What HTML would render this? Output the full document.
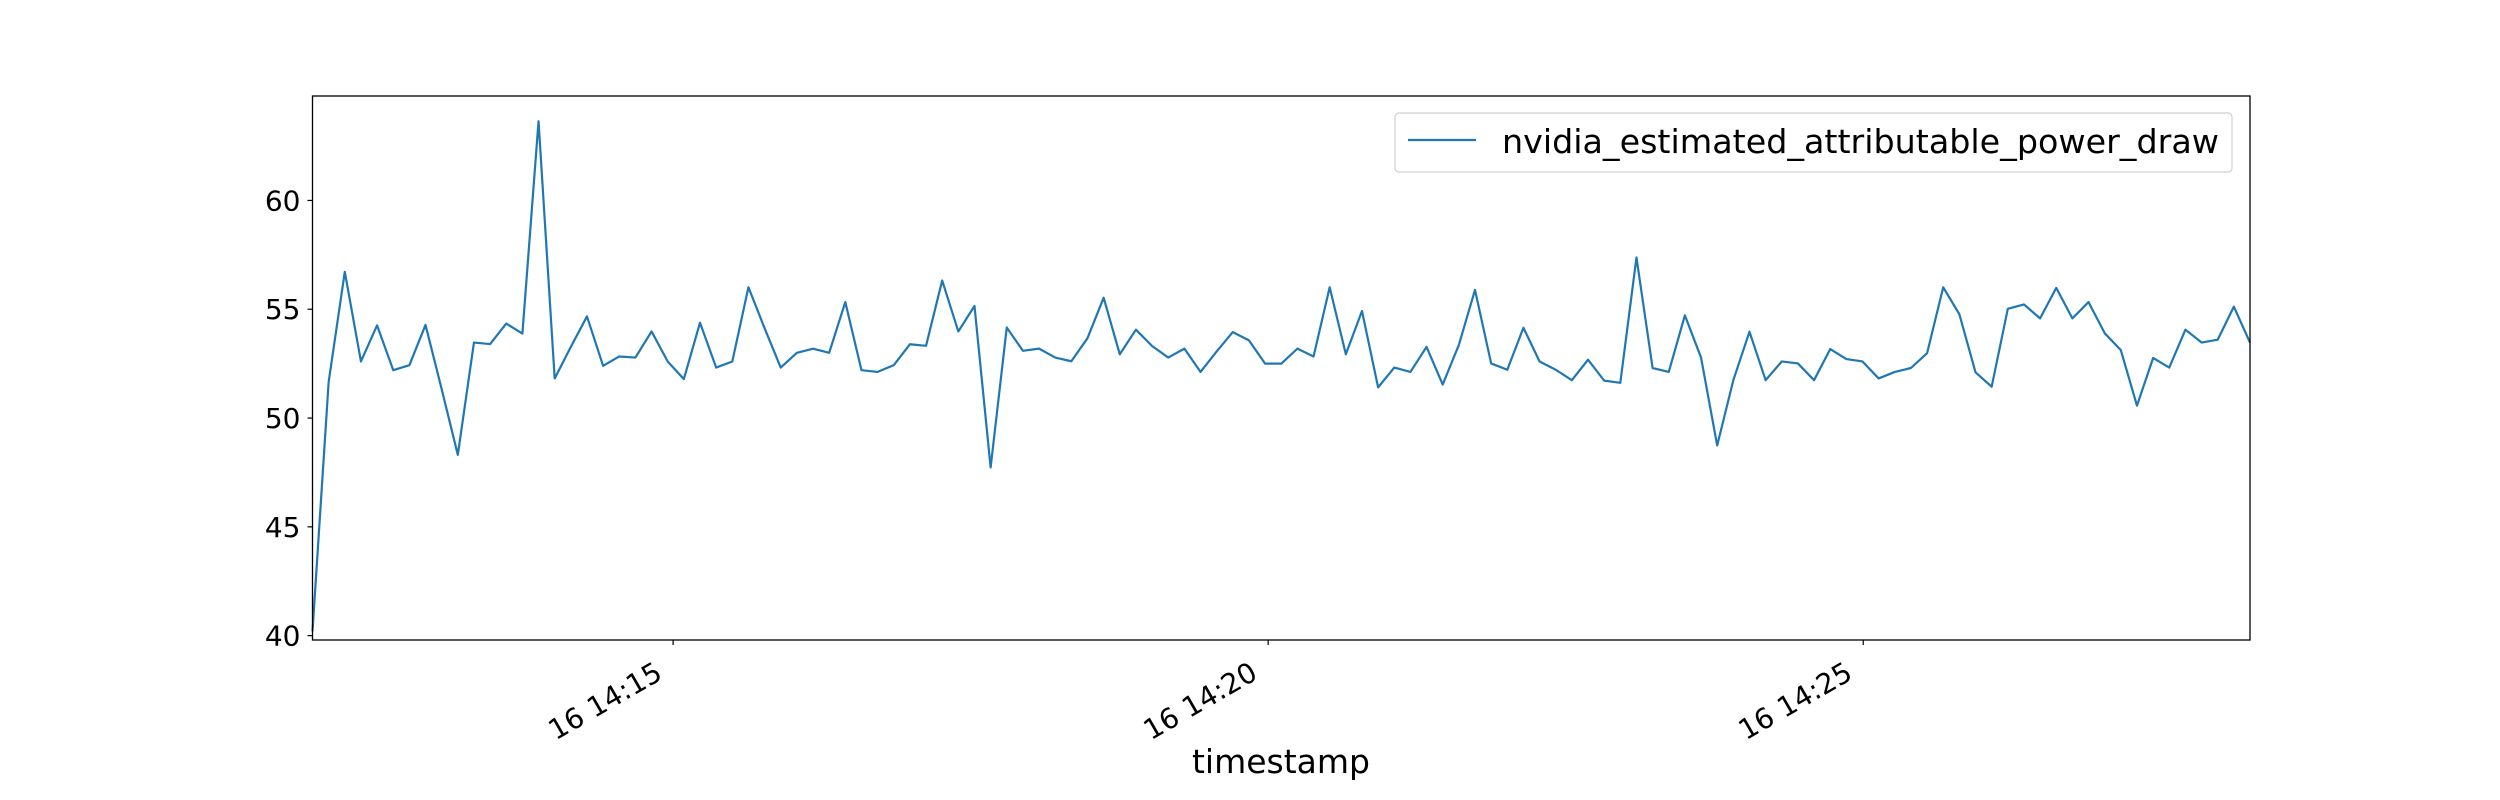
<!DOCTYPE html>
<html><head><meta charset="utf-8"><style>
html,body{margin:0;padding:0;background:#fff;}
svg{display:block;font-family:"DejaVu Sans","Liberation Sans",sans-serif;}
</style></head><body>
<svg id="chart" width="2500" height="800" viewBox="0 0 2500 800" xmlns="http://www.w3.org/2000/svg">
<rect width="2500" height="800" fill="#fff"/>
<g id="plot"></g>
</svg>
<script>
const seriesName = "nvidia_estimated_attributable_power_draw";
const startSeconds = 14*3600 + 11*60 + 58.2;
const stepSeconds = 8.14;
const powerValues = [40.2,51.66,56.72,52.6,54.26,52.2,52.43,54.28,51.33,48.31,53.47,53.4,54.34,53.88,63.64,51.82,53.27,54.67,52.4,52.83,52.78,53.98,52.6,51.79,54.38,52.32,52.6,56.01,54.13,52.32,53.0,
53.19,53.0,55.33,52.2,52.12,52.43,53.39,53.32,56.32,53.98,55.15,47.73,54.16,53.09,53.19,52.78,52.61,53.67,55.53,52.93,54.06,53.31,52.78,53.19,52.12,53.06,53.95,53.57,52.5,52.5,
53.19,52.83,56.01,52.93,54.92,51.41,52.32,52.12,53.27,51.54,53.36,55.89,52.51,52.22,54.15,52.6,52.22,51.74,52.68,51.72,51.62,57.38,52.3,52.12,54.72,52.78,48.74,51.74,53.97,
51.74,52.6,52.51,51.74,53.17,52.71,52.6,51.82,52.12,52.3,52.98,56.01,54.77,52.1,51.44,55.02,55.22,54.58,55.98,54.58,55.33,53.9,53.12,50.57,52.76,52.32,54.06,53.47,53.6,55.12,53.47];
const timeSeconds = powerValues.map((v,i)=>startSeconds + i*stepSeconds);
const yTicks = [40,45,50,55,60];
const xTickSeconds = [14*3600+15*60, 14*3600+20*60, 14*3600+25*60];
const xTickLabels = ["16 14:15","16 14:20","16 14:25"];

const L=312.5,R=2250,T=96,B=640;
const yMin=39.8,yMax=64.8;
const xMin=timeSeconds[0], xMax=timeSeconds[timeSeconds.length-1];
const xs=t=>L+(t-xMin)/(xMax-xMin)*(R-L);
const ys=v=>B-(v-yMin)/(yMax-yMin)*(B-T);
const NS="http://www.w3.org/2000/svg";
const g=document.getElementById('plot');
function mk(tag,attrs,parent){const e=document.createElementNS(NS,tag);for(const k in attrs)e.setAttribute(k,attrs[k]);(parent||g).appendChild(e);return e;}

const line=mk('polyline',{points:powerValues.map((v,i)=>xs(timeSeconds[i]).toFixed(2)+','+ys(v).toFixed(2)).join(' '),fill:'none',stroke:'#1f77b4','stroke-width':2.2,'stroke-linejoin':'round'});



const frame=mk('rect',{x:L,y:T,width:R-L,height:B-T,fill:'none',stroke:'#000','stroke-width':1.3});



yTicks.forEach(v=>{
  const y=ys(v);
  mk('line',{x1:L-5,x2:L,y1:y,y2:y,stroke:'#000','stroke-width':1.2});
  const t=mk('text',{x:L-12,y:y+10,'text-anchor':'end','font-size':28,fill:'#000'});
  t.textContent=v;
  
  
});
xTickSeconds.forEach((s,i)=>{
  const x=xs(s);
  mk('line',{x1:x,x2:x,y1:B,y2:B+5,stroke:'#000','stroke-width':1.2});
  const t=mk('text',{x:0,y:0,'text-anchor':'end','font-size':28,fill:'#000',transform:`translate(${x-9},${B+38}) rotate(-30)`});
  t.textContent=xTickLabels[i];
  
  
});
const xl=mk('text',{x:1281,y:773,'text-anchor':'middle','font-size':33,fill:'#000'});
xl.textContent='timestamp';



const leg=mk('g',{});


mk('rect',{x:1395,y:113,width:837,height:59,rx:4,fill:'#fff','fill-opacity':0.8,stroke:'#d0d0d0','stroke-width':1.2},leg);
mk('line',{x1:1408,x2:1476,y1:140,y2:140,stroke:'#1f77b4','stroke-width':2.2},leg);
const lt=mk('text',{x:1502,y:153,'font-size':33,fill:'#000',textLength:717,lengthAdjust:'spacingAndGlyphs'},leg);
lt.textContent=seriesName;


</script>
</body></html>
